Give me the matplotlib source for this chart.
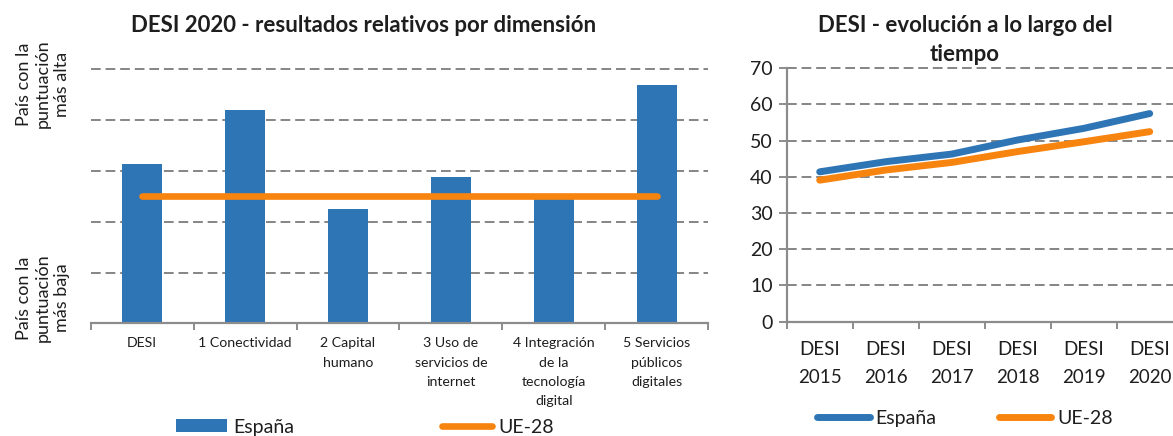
import matplotlib
matplotlib.use("Agg")
import matplotlib.pyplot as plt
from matplotlib.lines import Line2D
from matplotlib.patches import Patch
import numpy as np

plt.rcParams['font.family'] = ['Lato', 'DejaVu Sans']

# ---- data ----
dimensions = ["DESI", "1 Conectividad", "2 Capital\nhumano",
              "3 Uso de\nservicios de\ninternet",
              "4 Integración\nde la\ntecnología\ndigital",
              "5 Servicios\npúblicos\ndigitales"]
espana_rel = [3.14, 4.20, 2.25, 2.88, 2.45, 4.70]
ue28_rel = [2.50, 2.50, 2.50, 2.50, 2.50, 2.50]

years = ["DESI\n2015", "DESI\n2016", "DESI\n2017", "DESI\n2018", "DESI\n2019", "DESI\n2020"]
espana_desi = [41.4, 44.2, 46.3, 50.2, 53.4, 57.5]
ue28_desi = [39.1, 41.9, 44.0, 47.0, 49.7, 52.5]

BLUE = "#2E75B6"
ORANGE = "#F88410"
GRID = "#858585"
AXC = "#8C8C8C"
TXT = "#1E1E1E"

W, H = 1173, 436
fig = plt.figure(figsize=(W / 100, H / 100), dpi=100)

def fx(px):
    return px / W

def fy(py):
    return 1 - py / H

# ---------------- left chart ----------------
axL = fig.add_axes([fx(90.7), fy(323.3), fx(708.3) - fx(90.7), fy(69.3) - fy(323.3)])
n = len(dimensions)
x = np.arange(n)
axL.bar(x, espana_rel, width=0.39, color=BLUE, zorder=2)
axL.plot(x, ue28_rel, color=ORANGE, lw=4.8, solid_capstyle='round', zorder=3)
axL.set_xlim(-0.5, n - 0.5)
axL.set_ylim(0, 5)
for yv in [1, 2, 3, 4, 5]:
    axL.axhline(yv, color=GRID, lw=1.4, ls=(0, (5, 2.5)), zorder=1, clip_on=False)
for s in ['top', 'right', 'left']:
    axL.spines[s].set_visible(False)
axL.spines['bottom'].set_color(AXC)
axL.spines['bottom'].set_linewidth(1.6)
axL.set_yticks([])
axL.set_xticks(x)
axL.set_xticklabels(dimensions, fontsize=10.2, linespacing=1.74, va='top', color=TXT)
axL.tick_params(axis='x', which='major', length=0, pad=10)
axL.set_xticks(np.arange(-0.5, n, 1.0), minor=True)
axL.tick_params(axis='x', which='minor', length=5, width=1.4, color=AXC, direction='out')

fig.text(fx(364), fy(25), "DESI 2020 - resultados relativos por dimensión",
         ha='center', va='center', fontsize=16, fontweight='bold', color=TXT)

fig.text(fx(43), fy(84), "País con la\npuntuación\nmás alta", rotation=90,
         ha='center', va='center', multialignment='center', fontsize=13,
         linespacing=1.2, color=TXT)
fig.text(fx(43), fy(298), "País con la\npuntuación\nmás baja", rotation=90,
         ha='center', va='center', multialignment='center', fontsize=13,
         linespacing=1.2, color=TXT)

handlesL = [Patch(facecolor=BLUE, edgecolor='none', label="España"),
            Line2D([], [], color=ORANGE, lw=4.8, solid_capstyle='round', label="UE-28")]
fig.legend(handles=handlesL, loc='center', bbox_to_anchor=(fx(365), fy(427)),
           ncol=2, frameon=False, fontsize=14, handlelength=2.6, handleheight=0.65,
           handletextpad=0.3, columnspacing=7.6, borderpad=0, borderaxespad=0,
           labelcolor=TXT)

# ---------------- right chart ----------------
axR = fig.add_axes([fx(786.7), fy(321.7), fx(1182.7) - fx(786.7), fy(68.3) - fy(321.7)])
m = len(years)
xr = np.arange(m) + 0.5
axR.plot(xr, espana_desi, color=BLUE, lw=5, solid_capstyle='round', zorder=3)
axR.plot(xr, ue28_desi, color=ORANGE, lw=5, solid_capstyle='round', zorder=3)
axR.set_xlim(0, m)
axR.set_ylim(0, 70)
for yv in range(10, 80, 10):
    axR.axhline(yv, color=GRID, lw=1.4, ls=(0, (5, 2.5)), zorder=1, clip_on=False)
for s in ['top', 'right']:
    axR.spines[s].set_visible(False)
for s in ['bottom', 'left']:
    axR.spines[s].set_color(AXC)
    axR.spines[s].set_linewidth(1.6)
axR.set_yticks(range(0, 80, 10))
axR.tick_params(axis='y', length=6, width=1.4, color=AXC, labelsize=14, pad=4,
                labelcolor=TXT)
axR.set_xticks(xr)
axR.set_xticklabels(years, fontsize=13.5, linespacing=1.75, color=TXT)
axR.tick_params(axis='x', which='major', length=0, pad=14)
axR.set_xticks(np.arange(0, m + 1, 1.0), minor=True)
axR.tick_params(axis='x', which='minor', length=5, width=1.4, color=AXC)
fig.text(fx(965), fy(40), "DESI - evolución a lo largo del\ntiempo", ha='center',
         va='center', fontsize=16, fontweight='bold', linespacing=1.42, color=TXT)

handlesR = [Line2D([], [], color=BLUE, lw=5, solid_capstyle='round', label="España"),
            Line2D([], [], color=ORANGE, lw=5, solid_capstyle='round', label="UE-28")]
fig.legend(handles=handlesR, loc='center', bbox_to_anchor=(fx(965), fy(418)),
           ncol=2, frameon=False, fontsize=14, handlelength=2.7,
           handletextpad=0.3, columnspacing=3.2, borderpad=0, borderaxespad=0,
           labelcolor=TXT)

fig.savefig("out.png", dpi=100)
